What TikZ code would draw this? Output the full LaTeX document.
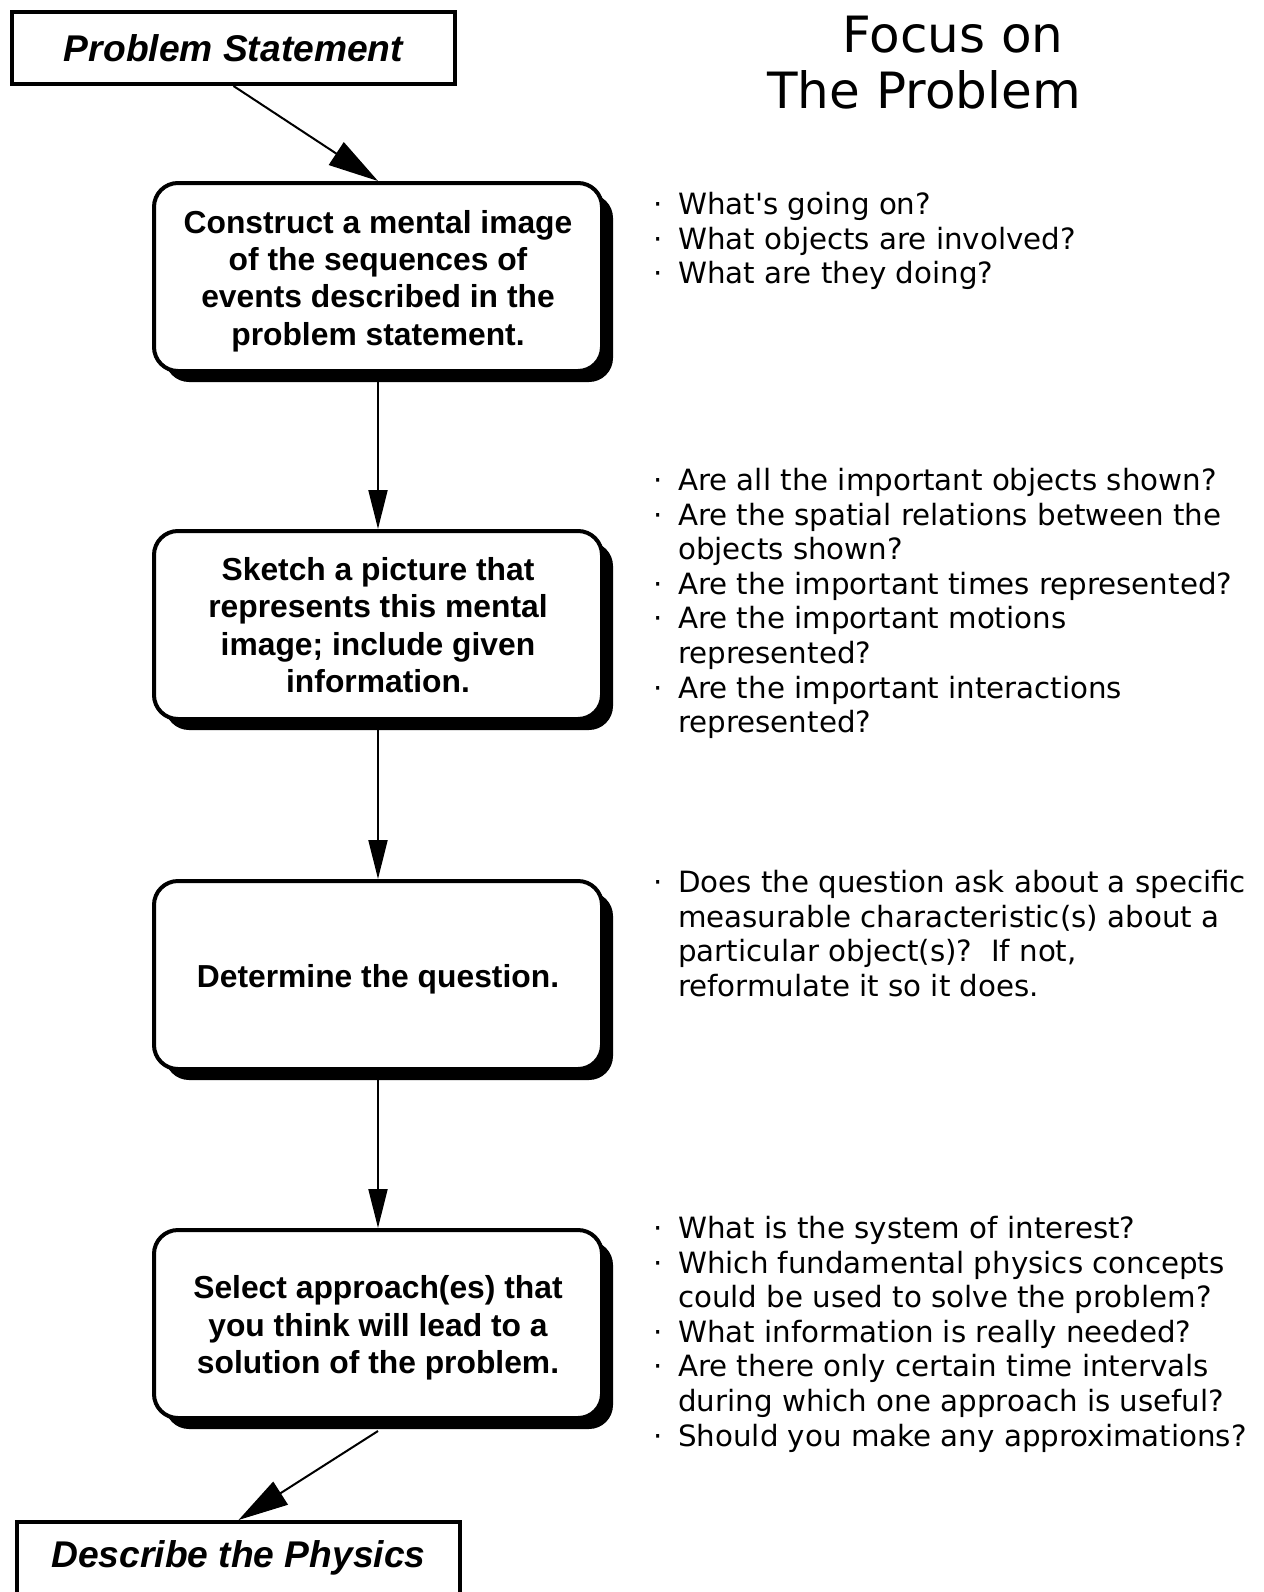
\documentclass[tikz,border=0pt]{standalone}
\usepackage{fontspec}
\setmainfont{Liberation Sans}
\newfontfamily\genevafont{DejaVu Sans}
\usetikzlibrary{arrows.meta, shadows}
\newcommand{\bul}{\makebox[25pt][l]{·}}
\newcommand{\cont}{\hspace*{25pt}}
\newcommand{\lift}{\rule{0pt}{31pt}}

\begin{document}
\begin{tikzpicture}[x=1pt, y=-1pt,
        endbox/.style = {draw, line width=4pt, minimum width=443pt, minimum height=72pt, inner sep=0pt,
            font=\fontsize{37.2}{44}\selectfont\bfseries\itshape},
        stepbox/.style = {draw, fill=white, line width=4pt, rounded corners=24pt, minimum width=448pt,
            minimum height=188pt, align=center, inner sep=0pt, font=\fontsize{31.8}{37.3}\selectfont\bfseries,
            drop shadow={shadow xshift=11pt, shadow yshift=-11pt, opacity=1, fill=black}},
        qlist/.style = {anchor=north west, align=left, inner sep=0pt, font=\genevafont\fontsize{29.3}{34.6}\selectfont},
        flow/.style = {-{Triangle[length=39pt, width=19pt]}, line width=2pt},
        slant/.style = {-{Triangle[length=50pt, width=27pt]}, line width=2pt}]
            \useasboundingbox (0,0) rectangle (1263,1592);
            \node[endbox] (stmt) at (233.5, 48) {Problem Statement};
            \node[stepbox] (mental) at (378, 277) {\lift Construct a mental image\\ of the sequences of\\ events described in the\\ problem statement.};
            \node[stepbox] (sketch) at (378, 625) {Sketch a picture that\\ represents this mental\\ image; include given\\ information.};
            \node[stepbox] (question) at (378, 975) {\lift Determine the question.};
            \node[stepbox] (approach) at (378, 1324) {\lift Select approach(es) that\\ you think will lead to a\\ solution of the problem.};
            \node[endbox] (physics) at (238.5, 1558) {Describe the Physics};
            \coordinate (tail) at ([yshift=-11pt]approach.south);

            \draw[slant] (stmt.south) -- (mental.north);
            \draw[flow] (mental.south) -- (sketch.north);
            \draw[flow] (sketch.south) -- (question.north);
            \draw[flow] (question.south) -- (approach.north);
            \draw[slant] (tail) -- (physics.north);

            \node[anchor=base, font=\genevafont\fontsize{50}{56}\selectfont] (focus) at (953, 53) {Focus on};
            \node[anchor=base, font=\genevafont\fontsize{50}{56}\selectfont] (problem) at (924, 109) {The Problem};

            \node[qlist] (q1) at (653, 192) {\bul What's going on?\\ \bul What objects are involved?\\ \bul What are they doing?};
            \node[qlist] (q2) at (653, 468) {\bul Are all the important objects shown?\\ \bul Are the spatial relations between the\\ \cont objects shown?\\ \bul Are the important times represented?\\ \bul Are the important motions\\ \cont represented?\\ \bul Are the important interactions\\ \cont represented?};
            \node[qlist] (q3) at (653, 870) {\bul Does the question ask about a specific\\ \cont measurable characteristic(s) about a\\ \cont particular object(s)?\ \ If not,\\ \cont reformulate it so it does.};
            \node[qlist] (q4) at (653, 1216) {\bul What is the system of interest?\\ \bul Which fundamental physics concepts\\ \cont could be used to solve the problem?\\ \bul What information is really needed?\\ \bul Are there only certain time intervals\\ \cont during which one approach is useful?\\ \bul Should you make any approximations?};
        \end{tikzpicture}
\end{document}
